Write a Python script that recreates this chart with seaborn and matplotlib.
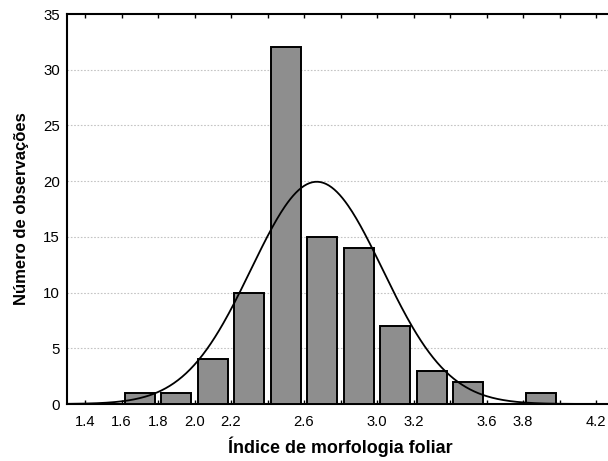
import numpy as np
import pandas as pd
import matplotlib
matplotlib.use("Agg")
import matplotlib.pyplot as plt
import seaborn as sns

# Data
bin_centers = [1.7, 1.9, 2.1, 2.3, 2.5, 2.7, 2.9, 3.1, 3.3, 3.5, 3.7, 3.9]
counts = [1, 1, 4, 10, 32, 15, 14, 7, 3, 2, 0, 1]
bin_edges = [1.6, 1.8, 2.0, 2.2, 2.4, 2.6, 2.8, 3.0, 3.2, 3.4, 3.6, 3.8, 4.0]
tick_positions = [1.4, 1.6, 1.8, 2.0, 2.2, 2.4, 2.6, 2.8, 3.0, 3.2, 3.4, 3.6, 3.8, 4.0, 4.2]
tick_labels = ["1.4", "1.6", "1.8", "2.0", "2.2", "", "2.6", "", "3.0", "3.2", "", "3.6", "3.8", "", "4.2"]
y_ticks = [0, 5, 10, 15, 20, 25, 30, 35]
# fitted normal curve parameters
fit_mean = 2.67
fit_sd = 0.36
bin_width = 0.2

sns.set_theme(style="white")
plt.rcParams['font.family'] = ['Liberation Sans', 'DejaVu Sans']
plt.rcParams['text.color'] = 'black'
plt.rcParams['axes.labelcolor'] = 'black'

fig = plt.figure(figsize=(6.08, 4.61), dpi=100)
ax = fig.add_axes([0.1098, 0.1236, 0.9005, 0.846])

df = pd.DataFrame({"x": bin_centers, "n": counts})
sns.histplot(data=df, x="x", weights="n", bins=bin_edges, shrink=0.83,
             color="#8e8e8e", edgecolor="black", linewidth=1.4, alpha=1.0, ax=ax, zorder=3)

n_total = sum(counts)
xs = np.linspace(1.3, 4.3, 400)
ys = n_total * bin_width * np.exp(-0.5 * ((xs - fit_mean) / fit_sd) ** 2) / (fit_sd * np.sqrt(2 * np.pi))
sns.lineplot(x=xs, y=ys, color="black", linewidth=1.3, ax=ax, zorder=4)

ax.set_xlim(1.3, 4.3)
ax.set_ylim(0, 35)
ax.set_xticks(tick_positions)
ax.set_xticklabels(tick_labels, fontsize=10.6)
ax.set_yticks(y_ticks)
ax.set_yticklabels([str(v) for v in y_ticks], fontsize=10.8)
ax.tick_params(axis="x", direction="in", length=3, width=1, top=True, bottom=True, pad=8, colors="black")
ax.tick_params(axis="y", direction="in", length=0, pad=5, colors="black")

for v in y_ticks[1:-1]:
    ax.axhline(v, color="#c4c4c4", linestyle=(0, (1.5, 1.5)), linewidth=0.8, zorder=1)

for s in ["left", "bottom", "top", "right"]:
    ax.spines[s].set_color("black")
    ax.spines[s].set_linewidth(1.5)

ax.set_xlabel("Índice de morfologia foliar", fontsize=12.9, fontweight="bold", color="black")
ax.set_ylabel("Número de observações", fontsize=12, fontweight="bold", color="black")
ax.yaxis.set_label_coords(-0.069, 0.5)
ax.xaxis.set_label_coords(0.5, -0.083)

fig.savefig("out.png", dpi=100)
